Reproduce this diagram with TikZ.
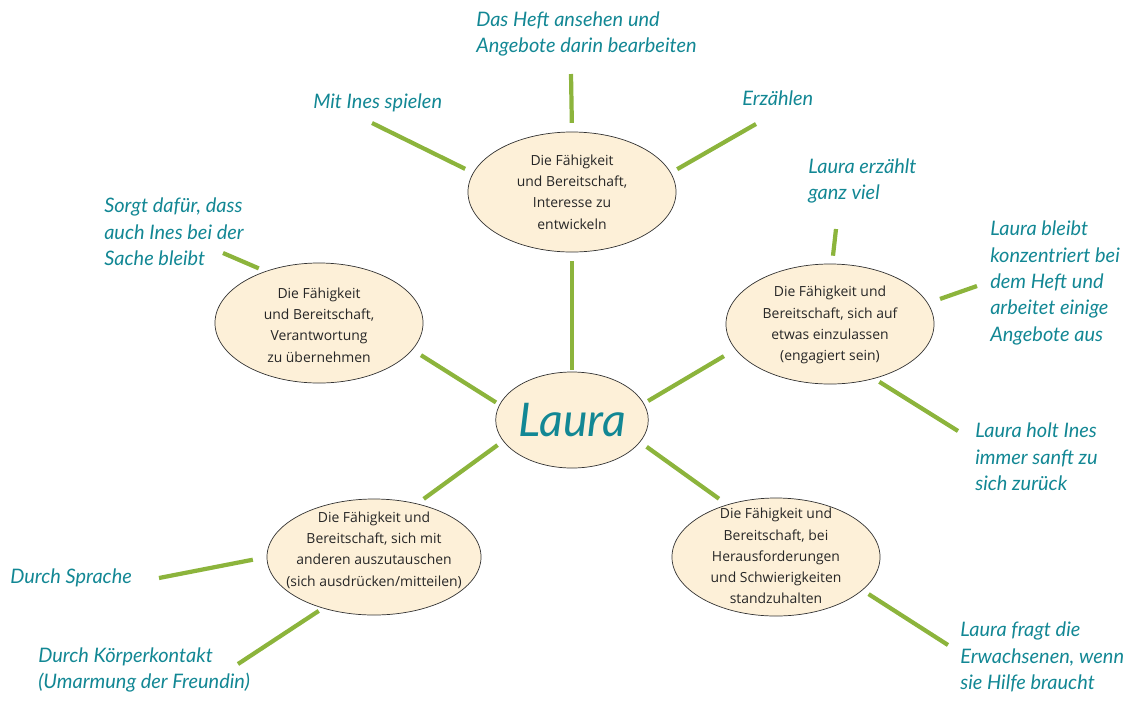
\documentclass[tikz,border=0pt]{standalone}
\usepackage{fontspec}
\setmainfont{Open Sans}
\newfontfamily\handfont{Lato}
\usetikzlibrary{shapes.geometric}
\definecolor{twiggreen}{RGB}{140,180,60}
\definecolor{ink}{RGB}{18,135,148}
\definecolor{cream}{RGB}{253,240,216}
\newcommand{\handnote}{\handfont\itshape\fontsize{14.2}{18.8}\selectfont}
\newcommand{\bubfont}{\fontsize{9.9}{15.1}\selectfont}

\begin{document}
\begin{tikzpicture}[x=0.025cm,y=-0.025cm,
  bubble/.style={ellipse,draw=black!80,line width=0.5pt,fill=cream,minimum width=5.2cm,minimum height=3cm,inner sep=0pt},
  bubtext/.style={align=center,font=\bubfont,text=black!85},
  twig/.style={draw=twiggreen,line width=3pt},
  note/.style={anchor=west,align=left,text=ink,inner sep=0pt,font=\handnote}]
 \useasboundingbox (0,0) rectangle (1132,700);

 \node[bubble,minimum width=3.4cm,minimum height=2.4cm,text=ink,font=\handfont\itshape\fontsize{33}{33}\selectfont] (laura) at (572,420) {Laura};
 \node[bubble] (fTop) at (572,192) {};
 \node[bubble] (fLeft) at (319,323) {};
 \node[bubble] (fRight) at (830,324) {};
 \node[bubble,minimum width=5.35cm,minimum height=2.9cm] (fBL) at (374,557) {};
 \node[bubble,minimum height=2.95cm] (fBR) at (776,557) {};

 \node[bubtext] (tTop) at (572,192) {Die Fähigkeit\\und Bereitschaft,\\Interesse zu\\entwickeln};
 \node[bubtext] (tLeft) at (319,325) {Die Fähigkeit\\und Bereitschaft,\\Verantwortung\\zu übernehmen};
 \node[bubtext] (tRight) at (830,325) {Die Fähigkeit und\\Bereitschaft, sich auf\\etwas einzulassen\\(engagiert sein)};
 \node[bubtext] (tBL) at (374,550) {Die Fähigkeit und\\Bereitschaft, sich mit\\anderen auszutauschen\\(sich ausdrücken/mitteilen)};
 \node[bubtext] (tBR) at (776,556) {Die Fähigkeit und\\Bereitschaft, bei\\Herausforderungen\\und Schwierigkeiten\\standzuhalten};

 \node[note] (lHeft) at (476,34) {Das Heft ansehen und\\Angebote darin bearbeiten};
 \node[note] (lInes) at (313,103) {Mit Ines spielen};
 \node[note] (lErz) at (742,98) {Erzählen};
 \node[note] (lSorgt) at (104,232) {Sorgt dafür, dass\\auch Ines bei der\\Sache bleibt};
 \node[note] (lViel) at (808,181) {Laura erzählt\\ganz viel};
 \node[note] (lKonz) at (990,283) {Laura bleibt\\konzentriert bei\\dem Heft und\\arbeitet einige\\Angebote aus};
 \node[note] (lHolt) at (975,457) {Laura holt Ines\\immer sanft zu\\sich zurück};
 \node[note] (lSprache) at (10,578) {Durch Sprache};
 \node[note] (lKoerper) at (38,670) {Durch Körperkontakt\\(Umarmung der Freundin)};
 \node[note] (lFragt) at (960,657) {Laura fragt die\\Erwachsenen, wenn\\sie Hilfe braucht};

 \coordinate (cHeft) at (571,74);
 \coordinate (cInes) at (372,123);
 \coordinate (cErz) at (756,124);
 \coordinate (cSorgt) at (223,253);
 \coordinate (cViel) at (836,229);
 \coordinate (cKonz) at (977,286);
 \coordinate (cHolt) at (958,431);
 \coordinate (cSprache) at (159,578);
 \coordinate (cKoerper) at (238,664);
 \coordinate (cFragt) at (948,645);

 \draw[twig,shorten <=0.22cm,shorten >=0.05cm] (fTop) -- (laura);
 \draw[twig,shorten <=0.25cm,shorten >=0.1cm] (fLeft.-16) -- (laura.168);
 \draw[twig,shorten <=0.12cm,shorten >=0.33cm] (laura.13) -- (fRight.195);
 \draw[twig,shorten <=0.17cm,shorten >=0.2cm] (laura.197) -- (fBL.51);
 \draw[twig,shorten <=0.2cm,shorten >=0.25cm] (laura.-18) -- (fBR.133);

 \draw[twig,shorten <=0.22cm] (fTop.90) -- (cHeft);
 \draw[twig,shorten <=0.22cm] (fTop.169) -- (cInes);
 \draw[twig,shorten <=0.18cm] (fTop.11) -- (cErz);
 \draw[twig,shorten <=0.18cm] (fLeft.136) -- (cSorgt);
 \draw[twig,shorten <=0.2cm] (fRight.88) -- (cViel);
 \draw[twig,shorten <=0.32cm] (fRight.12) -- (cKonz);
 \draw[twig,shorten <=0.15cm] (fRight.-51) -- (cHolt);
 \draw[twig,shorten <=0.35cm] (fBL.180) -- (cSprache);
 \draw[twig,shorten <=0.12cm] (fBL.225) -- (cKoerper);
 \draw[twig,shorten <=0.18cm] (fBR.-21) -- (cFragt);
\end{tikzpicture}
\end{document}
